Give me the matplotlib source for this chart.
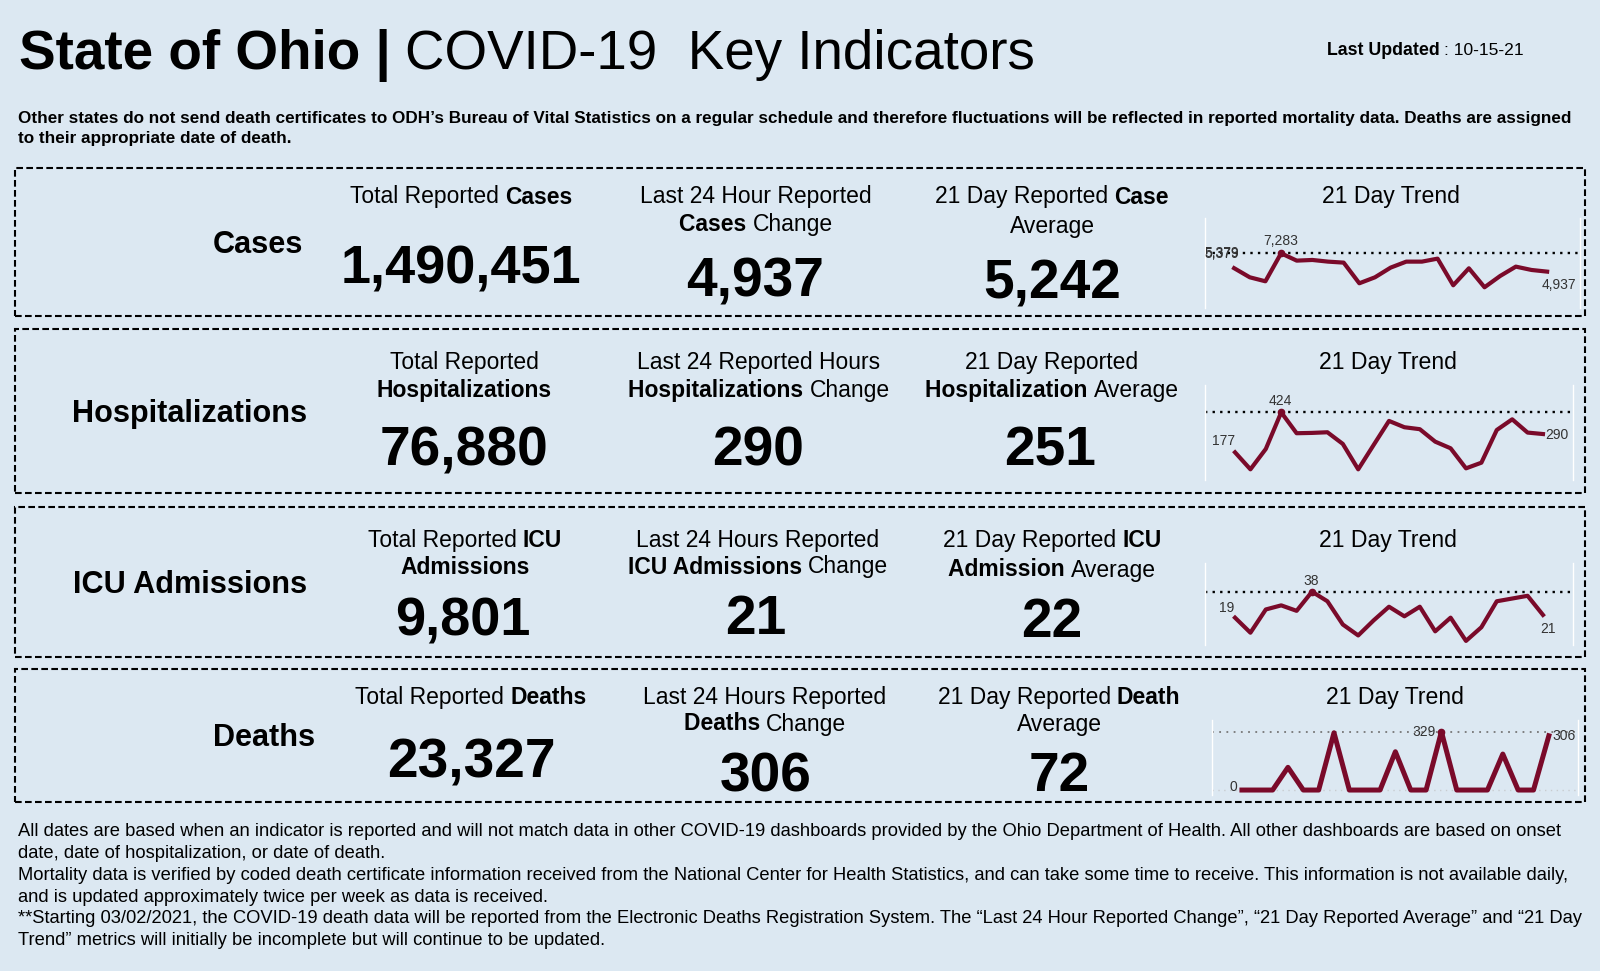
"""Ohio COVID-19 key indicators panel."""

import matplotlib

matplotlib.use("Agg")
import matplotlib.pyplot as plt
from matplotlib.patches import Rectangle

W, H = 1600, 971
BG = "#dce8f2"
LINE = "#7a0a2a"
LABEL = "#333333"

plt.rcParams["font.family"] = ["Liberation Sans", "DejaVu Sans"]

# 21 day trends
cases = [5379, 4212, 3700, 7283, 6345, 6430, 6217, 6089, 3445, 4212, 5450, 6217, 6217, 6600, 3190, 5364, 2935, 4383, 5577, 5150, 4937]
hosp = [177, 72, 198, 424, 295, 297, 301, 229, 72, 222, 371, 332, 320, 243, 202, 78, 113, 315, 381, 299, 290]
icu = [19, 8, 25, 28, 24, 38, 31, 14, 6, 17, 27, 20, 27, 9, 19, 2, 12, 31, 33, 35, 21]
deaths = [0, 0, 0, 128, 0, 0, 323, 0, 0, 0, 216, 0, 0, 329, 0, 0, 0, 203, 0, 0, 306]

names = ["Cases", "Hospitalizations", "ICU Admissions", "Deaths"]
totals = ["1,490,451", "76,880", "9,801", "23,327"]
changes = ["4,937", "290", "21", "306"]
averages = ["5,242", "251", "22", "72"]

total_labels = [
    [[("Total Reported ", 0), ("Cases", 1)]],
    [[("Total Reported", 0)], [("Hospitalizations", 1)]],
    [[("Total Reported ", 0), ("ICU", 1)], [("Admissions", 1)]],
    [[("Total Reported ", 0), ("Deaths", 1)]],
]
change_labels = [
    [[("Last 24 Hour Reported", 0)], [("Cases ", 1), ("Change", 0)]],
    [[("Last 24 Reported Hours", 0)], [("Hospitalizations ", 1), ("Change", 0)]],
    [[("Last 24 Hours Reported", 0)], [("ICU Admissions ", 1), ("Change", 0)]],
    [[("Last 24 Hours Reported", 0)], [("Deaths ", 1), ("Change", 0)]],
]
average_labels = [
    [[("21 Day Reported ", 0), ("Case", 1)], [("Average", 0)]],
    [[("21 Day Reported", 0)], [("Hospitalization ", 1), ("Average", 0)]],
    [[("21 Day Reported ", 0), ("ICU", 1)], [("Admission ", 1), ("Average", 0)]],
    [[("21 Day Reported ", 0), ("Death", 1)], [("Average", 0)]],
]

subtitle = [
    "Other states do not send death certificates to ODH\u2019s Bureau of Vital Statistics on a regular schedule and therefore fluctuations will be reflected in reported mortality data. Deaths are assigned",
    "to their appropriate date of death.",
]
footnotes = [
    "All dates are based when an indicator is reported and will not match data in other COVID-19 dashboards provided by the Ohio Department of Health. All other dashboards are based on onset",
    "date, date of hospitalization, or date of death.",
    "Mortality data is verified by coded death certificate information received from the National Center for Health Statistics, and can take some time to receive. This information is not available daily,",
    "and is updated approximately twice per week as data is received.",
    "**Starting 03/02/2021, the COVID-19 death data will be reported from the Electronic Deaths Registration System. The \u201cLast 24 Hour Reported Change\u201d, \u201c21 Day Reported Average\u201d and \u201c21 Day",
    "Trend\u201d metrics will initially be incomplete but will continue to be updated.",
]

fig = plt.figure(figsize=(W / 100, H / 100), dpi=100, facecolor=BG)
canvas = fig.canvas.get_renderer()


def txt(x, y, s, size, bold=False, ha="left", color="black"):
    return fig.text(x / W, 1 - y / H, s, fontsize=size, ha=ha, va="center",
                    fontweight="bold" if bold else "normal", color=color)


def run_width(s, size, bold):
    # pad with a bar so trailing spaces get measured
    probe = txt(0, 0, s + "|", size, bold)
    bar = txt(0, 0, "|", size, bold)
    w = probe.get_window_extent(canvas).width - bar.get_window_extent(canvas).width
    probe.remove()
    bar.remove()
    return w


def centered_runs(cx, y, runs, size):
    x = cx - sum(run_width(s, size, b) for s, b in runs) / 2
    for s, b in runs:
        txt(x, y, s, size, bool(b))
        x += run_width(s, size, b)


def label_block(cx, ys, lines, size=16.5):
    for y, runs in zip(ys, lines):
        centered_runs(cx, y, runs, size)


def trend(rect, series, xlim, ylim, notes, sparse=False):
    left, top, right, bottom = rect
    ax = fig.add_axes([left / W, 1 - bottom / H, (right - left) / W, (bottom - top) / H])
    ax.set_facecolor("none")
    ax.set_xlim(*xlim)
    ax.set_ylim(*ylim)
    ax.set_xticks([])
    ax.set_yticks([])
    for side in ("top", "bottom"):
        ax.spines[side].set_visible(False)
    for side in ("left", "right"):
        ax.spines[side].set_color("white")
        ax.spines[side].set_linewidth(1.0)
    peak = max(series)
    ax.axhline(peak, color="#777777" if sparse else "black",
               ls=(0, (1, 3)) if sparse else (0, (1, 2.2)), lw=1.3 if sparse else 1.7)
    if sparse:
        ax.axhline(0, color="#c8ccd0", ls=(0, (1, 3.2)), lw=1.0)
    ax.plot(range(len(series)), series, color=LINE, lw=3.6 if sparse else 3.0, solid_joinstyle="round")
    ax.plot(series.index(peak), peak, "o", color=LINE, ms=4.5)
    for i, text, dx, dy in notes:
        ax.annotate(text, (i, series[i]), xytext=(dx, dy), textcoords="offset pixels",
                    ha="center", va="center", fontsize=10, color=LABEL)
    return ax


# header
txt(19, 55, "State of Ohio |", 39.5, True)
txt(405, 55, "COVID-19  Key Indicators", 39.4)
txt(1327, 50, "Last Updated", 12.8, True)
txt(1444, 50, ": 10-15-21", 12.6)
for y, line in zip([118, 138], subtitle):
    txt(18, y, line, 12.3, True)

# dashed boxes
boxes = [(15, 168, 1585, 316), (15, 329, 1585, 493), (15, 507, 1585, 657), (15, 669, 1585, 802)]
for x0, y0, x1, y1 in boxes:
    fig.add_artist(Rectangle((x0 / W, 1 - y1 / H), (x1 - x0) / W, (y1 - y0) / H, fill=False,
                             ec="black", lw=1.5, ls=(0, (3.2, 1.6)), transform=fig.transFigure))

# row text
name_pos = [(303, 245), (307, 414), (307, 585), (315, 738)]
total_x = [461, 464, 463, 471]
change_x = [756, 759, 757, 767]
avg_x = [1052, 1050, 1052, 1059]
label_x_change = [756, 759, 758, 765]
label_x_avg = [1052, 1052, 1052, 1059]
trend_x = [1391, 1388, 1388, 1395]
trend_y = [197, 362, 540, 697]
label_ys = [(197, 224), (362, 390), (540, 567), (697, 724)]
avg_ys = [(197, 226), (362, 390), (540, 570), (697, 724)]
num_ys = [(270, 282, 284), (451, 451, 451), (621, 620, 623), (763, 777, 777)]
total_size = [39, 39.7, 39, 39.7]
label_x_total = [461, 464, 465, 471]

for i in range(4):
    txt(name_pos[i][0], name_pos[i][1], names[i], 22.1, True, ha="right")
    label_block(label_x_total[i], label_ys[i], total_labels[i])
    label_block(label_x_change[i], label_ys[i], change_labels[i])
    label_block(label_x_avg[i], avg_ys[i], average_labels[i])
    txt(trend_x[i], trend_y[i], "21 Day Trend", 16.6, ha="center")
    txt(total_x[i], num_ys[i][0], totals[i], total_size[i], True, ha="center")
    txt(change_x[i] - 1, num_ys[i][1], changes[i], 39.7, True, ha="center")
    txt(avg_x[i], num_ys[i][2], averages[i], 39.7, True, ha="center")

# sparklines
trend((1205, 218, 1580, 308), cases, (-1.86, 22.1), (283, 11800),
      [(0, "5,379", -12, 14), (0, "5,379", -12, 15), (3, "7,283", 0, 12), (20, "4,937", 12, -13)])
trend((1205, 385, 1573, 480), hosp, (-1.95, 21.95), (6, 593),
      [(0, "177", -11, 11), (3, "424", -1, 11), (20, "290", 14, -1)])
trend((1205, 563, 1573, 645), icu, (-1.95, 21.95), (-1, 59),
      [(0, "19", -8, 10), (5, "38", -1, 11), (20, "21", 5, -14)])
trend((1212, 720, 1578, 795), deaths, (-1.95, 21.9), (-28, 395),
      [(0, "0", -9, 3), (13, "329", -17, 0), (20, "306", 15, 0)], sparse=True)

# footnotes
for y, line in zip([831, 853, 875, 897, 918, 940], footnotes):
    txt(18, y, line, 13.25)

fig.savefig("out.png", dpi=100, facecolor=BG)
